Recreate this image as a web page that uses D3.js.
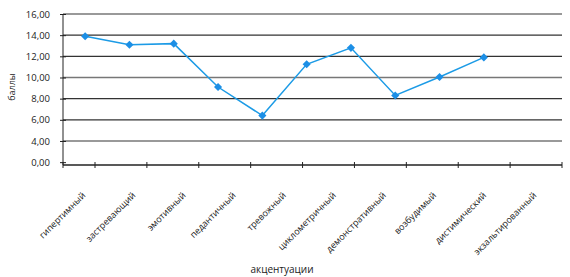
<!DOCTYPE html>
<html>
<head>
<meta charset="utf-8">
<script src="https://cdn.jsdelivr.net/npm/d3@7"></script>
<style>
  body { margin: 0; background: #fff; }
  text { font-family: "Open Sans", "DejaVu Sans", sans-serif; fill: #222; }
</style>
</head>
<body>
<div id="chart"></div>
<script>
// chart data
var categories = ["гипертимный", "застревающий", "эмотивный", "педантичный", "тревожный",
  "циклометричный", "демонстративный", "возбудимый", "дистимический", "экзальтированный"];
var values = [13.9, 13.1, 13.2, 9.1, 6.4, 11.25, 12.8, 8.3, 10.05, 11.9];
var yTicks = [2, 4, 6, 8, 10, 12, 14, 16];
var yTickLabels = ["0,00", "4,00", "6,00", "8,00", "10,00", "12,00", "14,00", "16,00"];
var gridTicks = [4, 6, 8, 10, 12, 14, 16];

var svgWidth = 570;
var svgHeight = 277;

var margin = { top: 14, right: 8, bottom: 112, left: 63 };
var width = svgWidth - margin.left - margin.right;
var height = svgHeight - margin.top - margin.bottom;

var svg = d3.select("#chart")
  .append("svg")
  .attr("width", svgWidth)
  .attr("height", svgHeight);

var chartGroup = svg.append("g")
  .attr("transform", `translate(${margin.left}, ${margin.top})`);

// x: 11 slots for the points, last one has no value
var xScale = d3.scaleBand()
  .domain(d3.range(11))
  .range([0, 44.3 * 11]);

// labels and tick marks are spread a bit wider than the points in the original
var xLabelScale = d3.scalePoint()
  .domain(categories)
  .range([19, 470]);

var xTickScale = d3.scalePoint()
  .domain(categories)
  .range([32, width]);

var yScale = d3.scaleLinear()
  .domain([1.73, 16])
  .range([height, 0]);

// gridlines
chartGroup.selectAll(".grid")
  .data(gridTicks)
  .enter()
  .append("line")
  .attr("x1", 0)
  .attr("x2", width)
  .attr("y1", d => yScale(d))
  .attr("y2", d => yScale(d))
  .attr("stroke", (d, i) => i % 3 === 0 ? "#777" : "#333")
  .attr("stroke-width", 1.3);

// y axis
var leftAxis = d3.axisLeft(yScale)
  .tickValues(yTicks)
  .tickSize(3)
  .tickFormat((d, i) => yTickLabels[i]);

var yAxis = chartGroup.append("g").call(leftAxis);
yAxis.select(".domain").attr("stroke", "#222").attr("d", `M0,0V${height}`);
yAxis.selectAll(".tick line").attr("x2", 3).attr("x1", -3).attr("stroke", "#222");
yAxis.selectAll(".tick text")
  .attr("x", -13)
  .attr("font-size", "9.5px")
  .attr("font-family", "'Open Sans', sans-serif")
  .attr("fill", "#222");

// x axis line and tick marks
chartGroup.append("line")
  .attr("x1", 0)
  .attr("x2", width)
  .attr("y1", height)
  .attr("y2", height)
  .attr("stroke", "#222")
  .attr("stroke-width", 1.3);

var xTicks = categories.map(c => xTickScale(c)).concat([0]);
chartGroup.selectAll(".xtick")
  .data(xTicks)
  .enter()
  .append("line")
  .attr("x1", d => d)
  .attr("x2", d => d)
  .attr("y1", height - 3)
  .attr("y2", height + 3)
  .attr("stroke", "#222");

// category labels
chartGroup.selectAll(".xlabel")
  .data(categories)
  .enter()
  .append("text")
  .attr("text-anchor", "end")
  .attr("font-size", "9px")
  .attr("transform", d => `translate(${xLabelScale(d) + 4}, ${height + 31}) rotate(-45)`)
  .text(d => d);

// line
var line = d3.line()
  .x((d, i) => xScale(i) + xScale.bandwidth() / 2)
  .y(d => yScale(d));

chartGroup.append("path")
  .datum(values)
  .attr("d", line)
  .attr("fill", "none")
  .attr("stroke", "#1c9be6")
  .attr("stroke-width", 1.5);

chartGroup.selectAll(".marker")
  .data(values)
  .enter()
  .append("path")
  .attr("d", d3.symbol().type(d3.symbolDiamond2).size(42))
  .attr("transform", (d, i) => `translate(${xScale(i) + xScale.bandwidth() / 2}, ${yScale(d)})`)
  .attr("fill", "#1c8fe6");

// axis titles
svg.append("text")
  .attr("transform", "translate(15, 87) rotate(-90)")
  .attr("text-anchor", "middle")
  .attr("font-size", "9px")
  .text("баллы");

svg.append("text")
  .attr("x", 282)
  .attr("y", 273)
  .attr("text-anchor", "middle")
  .attr("font-size", "10px")
  .text("акцентуации");
</script>
</body>
</html>
